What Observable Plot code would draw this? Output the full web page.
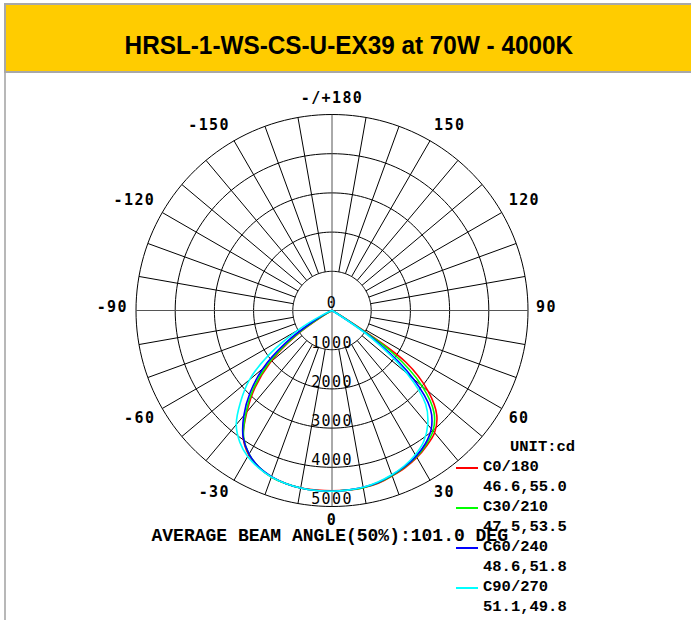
<!DOCTYPE html>
<html><head><meta charset="utf-8">
<script src="https://cdn.jsdelivr.net/npm/d3@7"></script>
<script src="https://cdn.jsdelivr.net/npm/@observablehq/plot@0.6"></script>
<style>
html,body{margin:0;padding:0;background:#fff;}
body{width:691px;height:620px;position:relative;overflow:hidden;}
#frame{position:absolute;left:4px;top:3px;width:720px;height:660px;border-left:2px solid #b8b8b8;}
#header{position:absolute;left:4px;top:3px;width:720px;height:66px;background:#FFCC00;border:2px solid #a8a8a8;}
#title{position:absolute;left:6px;top:30px;width:685px;height:30px;line-height:30px;text-align:center;}
#title span{display:inline-block;font-family:"Liberation Sans",Arial,sans-serif;font-weight:bold;font-size:26px;color:#000;transform:scaleX(0.935);white-space:nowrap;}
#chart{position:absolute;left:0;top:74px;}
.mono{position:absolute;font-family:"Liberation Mono","Courier New",monospace;font-weight:bold;color:#000;white-space:nowrap;line-height:20px;height:20px;}
.leg{font-size:15.5px;}
.swatch{position:absolute;width:22px;height:1.5px;}
</style></head>
<body>
<div id="frame"></div>
<div id="header"></div>
<div id="title"><span>HRSL-1-WS-CS-U-EX39 at 70W - 4000K</span></div>
<div id="chart"></div>
<div id="legend"></div>
<script>
// ---- data (candela) ----
const angles = [-70,-65,-60,-55,-50,-45,-40,-35,-30,-25,-20,-15,-10,-5,0,5,10,15,20,25,30,35,40,45,50,55,60,65,70];
const c0_180  = [0,0,150,1150,2050,2780,3380,3950,4250,4420,4520,4570,4600,4600,4600,4600,4590,4560,4490,4420,4330,4210,4070,3780,3200,2300,200,0,0];
const c30_210 = [0,0,300,1250,2150,2850,3420,3930,4230,4410,4520,4570,4600,4610,4610,4600,4590,4550,4480,4400,4310,4180,4010,3680,3000,1900,150,0,0];
const c60_240 = [0,100,550,1450,2300,2950,3500,3950,4230,4410,4510,4570,4600,4610,4610,4600,4580,4540,4470,4390,4290,4150,3940,3550,2700,1450,100,0,0];
const c90_270 = [0,250,1000,1950,2750,3300,3800,4100,4300,4430,4520,4570,4600,4610,4610,4600,4580,4530,4460,4370,4250,4080,3800,3380,2500,1250,50,0,0];
const seriesNames = ["C0/180","C30/210","C60/240","C90/270"];
const seriesColors = ["#ff0000","#00ff00","#0000ff","#00ffff"];
const beamAngles = ["46.6,55.0","47.5,53.5","48.6,51.8","51.1,49.8"];
const ringValues = [0,1000,2000,3000,4000,5000];
const angleTicks = [180,150,120,90,60,30,0,-30,-60,-90,-120,-150];
const angleTickLabels = ["-/+180","150","120","90","60","30","0","-30","-60","-90","-120","-150"];
const unitLabel = "UNIT:cd";
const beamText = "AVERAGE BEAM ANGLE(50%):101.0 DEG";

// ---- geometry ----
const W = 691, H = 546;
const cx = 331.5, cy = 236;           // pixel position of pole in svg
const maxR = 5000, pxR = 196;         // 5000 cd ring radius in px
const k = pxR / maxR;
const rad = a => a * Math.PI / 180;
const px = (r, a) => r * Math.sin(rad(a));
const py = (r, a) => r * Math.cos(rad(a));

const series = [c0_180, c30_210, c60_240, c90_270];
const curveData = series.flatMap((vals, i) => vals.map((v, j) => ({series: seriesNames[i], a: angles[j], v})));

const ringPts = ringValues.filter(r => r > 0).flatMap(r => d3.range(0, 361, 2).map(a => ({r, a})));
const spokes = d3.range(0, 360, 10).filter(a => a % 90 !== 0);
const axes = [0, 90];

// angle labels: nearest corner of the numeric part touches a circle of ~204px; minus sign hangs left
const charW = 10.45, charH = 11, labelGap = 204;
const sgn = v => Math.abs(v) < 1e-9 ? 0 : Math.sign(v);
const labelInfo = angleTicks.map((a, i) => {
  const t = angleTickLabels[i];
  const core = (a < 0) ? t.slice(1) : t;
  const s = Math.sin(rad(a)), c = Math.cos(rad(a));
  const ox = labelGap * s + sgn(s) * core.length * charW / 2 + ((a < 0) ? -charW / 2 : 0);
  const oy = labelGap * c + sgn(c) * charH / 2 + (c > 1e-9 ? 0 : -3);
  return {a, t, ox, oy};
});

const chart = Plot.plot({
  width: W, height: H, margin: 0,
  x: {domain: [-cx / k, (W - cx) / k], range: [0, W], axis: null},
  y: {domain: [-cy / k, (H - cy) / k], range: [0, H], axis: null},
  color: {domain: seriesNames, range: seriesColors},
  style: {background: "transparent", overflow: "visible"},
  marks: [
    Plot.line(ringPts, {x: d => px(d.r, d.a), y: d => py(d.r, d.a), z: "r", stroke: "#000", strokeWidth: 1}),
    Plot.link(spokes, {x1: a => px(1000, a), y1: a => py(1000, a), x2: a => px(maxR, a), y2: a => py(maxR, a), stroke: "#000", strokeWidth: 1}),
    Plot.link(axes, {x1: a => px(-maxR, a), y1: a => py(-maxR, a), x2: a => px(maxR, a), y2: a => py(maxR, a), stroke: "#555", strokeWidth: 1}),
    Plot.line(curveData, {x: d => px(d.v, d.a), y: d => py(d.v, d.a), z: "series", stroke: "series", strokeWidth: 1.6, curve: "catmull-rom"}),
    Plot.text(ringValues, {x: 0, y: d => d, text: d => String(d), dy: -7, fontFamily: "DejaVu Sans Mono", fontSize: 15, fill: "#000"}),
    Plot.text(labelInfo, {x: d => d.ox / k, y: d => d.oy / k, text: "t", fontFamily: "DejaVu Sans Mono", fontWeight: "bold", fontSize: 15, fill: "#000"})
  ]
});
document.getElementById("chart").appendChild(chart);
chart.querySelectorAll("text").forEach(t => t.style.letterSpacing = "1.4px");

// ---- legend ----
const leg = document.getElementById("legend");
function addText(txt, left, cyc, cls) {
  const d = document.createElement("div");
  d.className = "mono " + cls;
  d.style.left = left + "px";
  d.style.top = (cyc - 10) + "px";
  d.textContent = txt;
  leg.appendChild(d);
}
addText(unitLabel, 510, 446.7, "leg");
seriesNames.forEach((n, i) => {
  const y0 = 466.7 + i * 40;
  const s = document.createElement("div");
  s.className = "swatch";
  s.style.left = "456px";
  s.style.top = (y0 + 0.3) + "px";
  s.style.background = seriesColors[i];
  leg.appendChild(s);
  addText(n, 483, y0, "leg");
  addText(beamAngles[i], 483, y0 + 20, "leg");
});
const b = document.createElement("div");
b.className = "mono";
b.style.fontSize = "18px";
b.style.left = "151.5px";
b.style.top = "526px";
b.textContent = beamText;
leg.appendChild(b);
</script>
</body></html>
